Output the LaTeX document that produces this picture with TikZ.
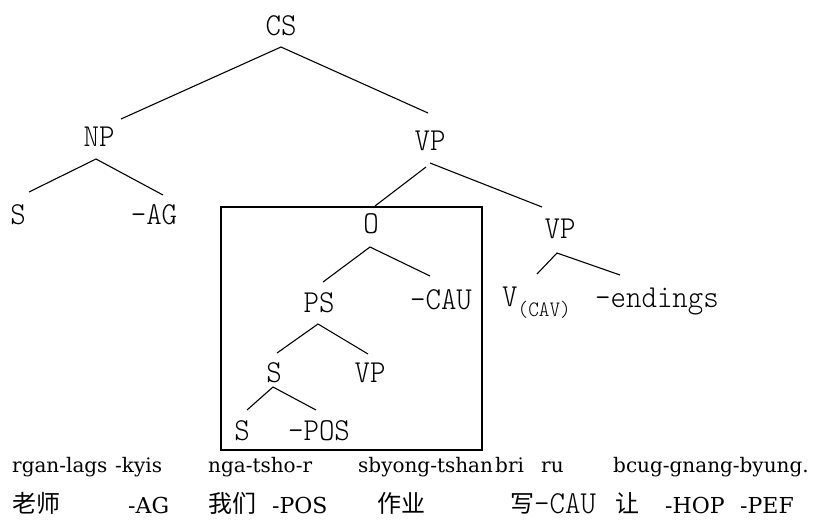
\documentclass[tikz,border=0pt]{standalone}
\usepackage{fontspec}
\newfontfamily\treefont[Extension=.otf, FakeStretch=0.92]{lmmonolt10-regular}
\newfontfamily\glossfont{DejaVu Serif}
\newfontfamily\cjkfont{Noto Sans CJK SC}
\begin{document}
\begin{tikzpicture}[x=1pt,y=-1pt,
  lab/.style={font={\treefont\fontsize{32}{34}\selectfont}, inner sep=0pt, anchor=base},
  labl/.style={lab, anchor=base west},
  gloss/.style={font={\glossfont\fontsize{20}{22}\selectfont}, inner sep=0pt, anchor=base west},
  glossb/.style={font={\glossfont\fontsize{22}{24}\selectfont}, inner sep=0pt, anchor=base west},
  cjk/.style={font={\cjkfont\fontsize{24}{26}\selectfont}, inner sep=0pt, anchor=base west},
  branch/.style={line width=1.1pt, black},
  frame/.style={line width=1.5pt, black}]
\useasboundingbox[fill=white] (0,0) rectangle (821,520);

% tree labels
\node[lab] (CS) at (281,35) {CS};
\node[lab] (NP) at (99,146) {NP};
\node[lab] (VP) at (430,150) {VP};
\node[lab] (S1) at (18,224) {S};
\node[lab] (AG) at (154,224) {–AG};
\node[lab] (O) at (371,233) {O};
\node[lab] (VP2) at (560,238) {VP};
\node[lab] (PS) at (319,312) {PS};
\node[lab] (CAU) at (441,309) {–CAU};
\node[labl] (V) at (502,306) {V\raisebox{-10pt}{\fontsize{22}{22}\selectfont(CAV)}};
\node[labl] (END) at (595,307) {–endings};
\node[lab] (S2) at (274,382) {S};
\node[lab] (VP3) at (370,382) {VP};
\node[lab] (S3) at (242,440) {S};
\node[lab] (POS) at (319,440) {–POS};

% branch end points
\coordinate (cs0) at (281,47);
\coordinate (np1) at (121,119);
\coordinate (vp1) at (428,113);
\coordinate (np0) at (96,159);
\coordinate (s1t) at (29,192);
\coordinate (agt) at (163,195);
\coordinate (vp0l) at (426,167);
\coordinate (vp0r) at (430,163);
\coordinate (ot) at (375,206);
\coordinate (vp2t) at (542,207);
\coordinate (o0) at (370,247);
\coordinate (pst) at (323,282);
\coordinate (caut) at (430,276);
\coordinate (vp20) at (557,253);
\coordinate (vt) at (537,274);
\coordinate (endt) at (620,275);
\coordinate (ps0) at (318,324);
\coordinate (s2t) at (277,353);
\coordinate (vp3t) at (368,354);
\coordinate (s20) at (273,387);
\coordinate (s3t) at (247,410);
\coordinate (post) at (316,410);

\draw[branch] (np1) -- (cs0) -- (vp1);
\draw[branch] (s1t) -- (np0) -- (agt);
\draw[branch] (ot) -- (vp0l);
\draw[branch] (vp0r) -- (vp2t);
\draw[branch] (pst) -- (o0) -- (caut);
\draw[branch] (vt) -- (vp20) -- (endt);
\draw[branch] (s2t) -- (ps0) -- (vp3t);
\draw[branch] (s3t) -- (s20) -- (post);

% box
\coordinate (boxa) at (221,207);
\coordinate (boxb) at (482,450);
\draw[frame] (boxa) rectangle (boxb);

% gloss line 1
\node[gloss] (g1) at (12,472) {rgan-lags};
\node[gloss] (g2) at (115,472) {-kyis};
\node[gloss] (g3) at (208,472) {nga-tsho-r};
\node[gloss] (g4) at (358,472) {sbyong-tshan};
\node[gloss] (g5) at (495,472) {bri};
\node[gloss] (g6) at (541,472) {ru};
\node[gloss] (g7) at (613,472) {bcug-gnang-byung.};

% gloss line 2
\node[cjk] (h1) at (12,512) {老师};
\node[glossb] (h2) at (128,513) {-AG};
\node[cjk] (h3) at (208,512) {我们};
\node[glossb] (h4) at (272,513) {-POS};
\node[cjk] (h5) at (377,512) {作业};
\node[cjk] (h6) at (510,512) {写};
\node[labl] (h7) at (534,513) {–CAU};
\node[cjk] (h8) at (615,512) {让};
\node[glossb] (h9) at (665,513) {-HOP};
\node[glossb] (h10) at (740,513) {-PEF};
\end{tikzpicture}
\end{document}
